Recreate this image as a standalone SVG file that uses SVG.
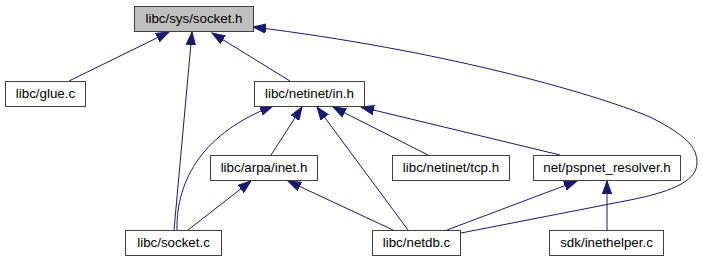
<svg xmlns="http://www.w3.org/2000/svg" width="703" height="261" viewBox="0 0 703 261">
  <style>
    .node rect { fill: #ffffff; stroke: #404040; stroke-width: 1; }
    .node.root rect { fill: #bfbfbf; }
    .node text { font-family: "Liberation Sans", Arial, sans-serif; font-size: 13.33px; fill: #000000; text-anchor: middle; }
    .edges path { fill: none; stroke: #191970; stroke-width: 1; marker-end: url(#arrow); }
  </style>
  <defs>
    <marker id="arrow" markerUnits="userSpaceOnUse" markerWidth="14" markerHeight="10" viewBox="0 -5 14 10" refX="13" refY="0" orient="auto">
      <path d="M0,-4.7 L13,0 L0,4.7 Z" fill="#191970" stroke="#191970" stroke-width="1"/>
    </marker>
  </defs>
  <rect width="703" height="261" fill="#ffffff"/>

  <!-- include dependency connectors, arrowheads point at the included header -->
  <g id="edges" class="edges">
    <path id="e-glue-socketh" d="M69,81 L169,32"/>
    <path id="e-socketc-socketh" d="M174,230 L192,32"/>
    <path id="e-in-socketh" d="M290,81 L212,33"/>
    <path id="e-netdb-socketh" d="M461,233 L630,200 C665,193 697,183 697,163 C697,148 688,136 650,117 C590,92 440,50 253,27"/>
    <path id="e-inet-in" d="M271,155 L302,107"/>
    <path id="e-socketc-in" d="M177,230 C176,178 205,132 273,106"/>
    <path id="e-socketc-inet" d="M188,230 L251,181"/>
    <path id="e-netdb-inet" d="M393,230 L288,181"/>
    <path id="e-netdb-in" d="M408,230 L317,107"/>
    <path id="e-tcp-in" d="M428,155 L333,107"/>
    <path id="e-resolver-in" d="M560,155 L361,107"/>
    <path id="e-netdb-resolver" d="M447,230 L577,181"/>
    <path id="e-inethelper-resolver" d="M607,230 L607,181"/>
  </g>

  <g id="node-sys-socket-h" class="node root">
    <rect x="134.5" y="6.5" width="119" height="25"/>
    <text x="194" y="23">libc/sys/socket.h</text>
  </g>
  <g id="node-glue-c" class="node">
    <rect x="5.5" y="81.5" width="80" height="25"/>
    <text x="45.5" y="98">libc/glue.c</text>
  </g>
  <g id="node-netinet-in-h" class="node">
    <rect x="254.5" y="81.5" width="110" height="25"/>
    <text x="309.5" y="98">libc/netinet/in.h</text>
  </g>
  <g id="node-arpa-inet-h" class="node">
    <rect x="210.5" y="155.5" width="107" height="25"/>
    <text x="264" y="172">libc/arpa/inet.h</text>
  </g>
  <g id="node-netinet-tcp-h" class="node">
    <rect x="392.5" y="155.5" width="117" height="25"/>
    <text x="451" y="172">libc/netinet/tcp.h</text>
  </g>
  <g id="node-pspnet-resolver-h" class="node">
    <rect x="533.5" y="155.5" width="147" height="25"/>
    <text x="607" y="172">net/pspnet_resolver.h</text>
  </g>
  <g id="node-socket-c" class="node">
    <rect x="125.5" y="230.5" width="96" height="25"/>
    <text x="173.5" y="247">libc/socket.c</text>
  </g>
  <g id="node-netdb-c" class="node">
    <rect x="372.5" y="230.5" width="88" height="25"/>
    <text x="416.5" y="247">libc/netdb.c</text>
  </g>
  <g id="node-inethelper-c" class="node">
    <rect x="549.5" y="230.5" width="114" height="25"/>
    <text x="606.5" y="247">sdk/inethelper.c</text>
  </g>
</svg>
